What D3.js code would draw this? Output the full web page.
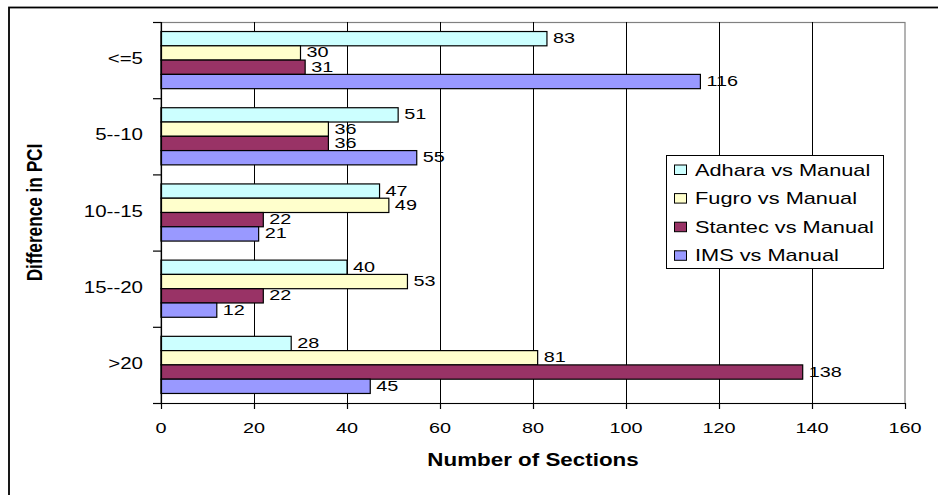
<!DOCTYPE html>
<html>
<head>
<meta charset="utf-8">
<script src="https://cdn.jsdelivr.net/npm/d3@7"></script>
<style>
  html, body { margin: 0; padding: 0; background: #fff; }
  svg { display: block; }
  text { font-family: "Liberation Sans", Arial, sans-serif; fill: #000; }
</style>
</head>
<body>
<svg id="chart" width="938" height="495"></svg>
<script>
// ---- data ----
const categories = ["<=5", "5--10", "10--15", "15--20", ">20"];
const seriesNames = ["Adhara vs Manual", "Fugro vs Manual", "Stantec vs Manual", "IMS vs Manual"];
const adhara  = [83, 51, 47, 40, 28];
const fugro   = [30, 36, 49, 53, 81];
const stantec = [31, 36, 22, 22, 138];
const ims     = [116, 55, 21, 12, 45];
const xTicks  = [0, 20, 40, 60, 80, 100, 120, 140, 160];
const seriesColors = ["#CCFFFF", "#FFFFCC", "#993366", "#9999FF"];
const xTitle = "Number of Sections";
const yTitle = "Difference in PCI";

const seriesValues = [adhara, fugro, stantec, ims];
const rows = [];
categories.forEach((c, ci) => {
  seriesNames.forEach((s, si) => rows.push({cat: c, series: s, si: si, value: seriesValues[si][ci]}));
});

// ---- layout ----
const SX = 1.28; // horizontal text stretch of the original picture
const svg = d3.select("#chart");
const pL = 161, pR = 905, pT = 22, pB = 403;

const x = d3.scaleLinear().domain([0, 160]).range([pL, pR]);
const y = d3.scaleBand().domain(categories).range([pT, pB]).padding(0);
const ySub = d3.scaleBand().domain(seriesNames).range([0, y.bandwidth()]).paddingInner(0).paddingOuter(0.667);
const color = d3.scaleOrdinal().domain(seriesNames).range(seriesColors);

function stxt(g, str, px, py, size, anchor, weight, rot) {
  const t = g.append("text")
    .attr("transform", `translate(${px},${py}) scale(${SX},1)` + (rot ? ` rotate(${rot})` : ""))
    .attr("text-anchor", anchor || "start")
    .style("font-size", size + "px")
    .text(str);
  if (weight) t.style("font-weight", weight);
  return t;
}

// outer chart border
svg.append("rect").attr("x", 9).attr("y", 7.5).attr("width", 1000).attr("height", 1000)
  .attr("fill", "#fff").attr("stroke", "#000").attr("stroke-width", 1.8);

// plot area border (gray) top & right
svg.append("rect").attr("x", pL).attr("y", pT + 0.5).attr("width", pR - pL).attr("height", pB - pT)
  .attr("fill", "#fff").attr("stroke", "#808080").attr("stroke-width", 1.2);

// vertical gridlines
svg.append("g").selectAll("line").data(xTicks.filter(d => d > 0 && d < 160)).join("line")
  .attr("x1", d => Math.round(x(d)) + 0.5).attr("x2", d => Math.round(x(d)) + 0.5)
  .attr("y1", pT).attr("y2", pB)
  .attr("stroke", "#000").attr("stroke-width", 1);

// bars
svg.append("g").selectAll("rect").data(rows).join("rect")
  .attr("x", x(0))
  .attr("y", d => y(d.cat) + ySub(d.series))
  .attr("width", d => x(d.value) - x(0))
  .attr("height", ySub.bandwidth())
  .attr("fill", d => color(d.series))
  .attr("stroke", "#000").attr("stroke-width", 1.2);

// data labels
const lbl = svg.append("g");
rows.forEach(d => {
  stxt(lbl, String(d.value), x(d.value) + 6, y(d.cat) + ySub(d.series) + ySub.bandwidth() / 2 + 4.5, 15.5, "start");
});

// x axis
const xAxisG = svg.append("g").attr("transform", `translate(0,${pB})`)
  .call(d3.axisBottom(x).tickValues(xTicks).tickSize(6).tickFormat(""));
xAxisG.select(".domain").attr("d", `M${pL - 8},0.5H${pR}`).attr("stroke", "#000").attr("stroke-width", 1.2);
xAxisG.selectAll(".tick line").attr("stroke", "#000").attr("stroke-width", 1.2);
const xl = svg.append("g");
xTicks.forEach(t => stxt(xl, String(t), x(t), 433, 15.5, "middle"));

// y axis (ticks at category boundaries)
const yBounds = categories.map(c => y(c)).concat([pB]);
svg.append("line").attr("x1", pL + 0.5).attr("x2", pL + 0.5).attr("y1", pT).attr("y2", pB)
  .attr("stroke", "#000").attr("stroke-width", 1.2);
svg.append("g").selectAll("line").data(yBounds).join("line")
  .attr("x1", pL - 8).attr("x2", pL).attr("y1", d => d + 0.5).attr("y2", d => d + 0.5)
  .attr("stroke", "#000").attr("stroke-width", 1.2);
const yl = svg.append("g");
categories.forEach(c => stxt(yl, c, 143, y(c) + y.bandwidth() / 2 + 4, 16, "end"));

// axis titles
stxt(svg, xTitle, (pL + pR) / 2, 466, 17.5, "middle", "bold");
stxt(svg, yTitle, 42, (pT + pB) / 2, 17.2, "middle", "bold", -90);

// legend
const lg = svg.append("g");
lg.append("rect").attr("x", 666.5).attr("y", 155.5).attr("width", 217).attr("height", 113)
  .attr("fill", "#fff").attr("stroke", "#000").attr("stroke-width", 1);
seriesNames.forEach((s, i) => {
  const cy = 169.5 + i * 28.6;
  lg.append("rect").attr("x", 674.5).attr("y", cy - 4.5).attr("width", 12).attr("height", 9.5)
    .attr("fill", color(s)).attr("stroke", "#000").attr("stroke-width", 1);
  stxt(lg, s, 695, cy + 6, 17, "start");
});
</script>
</body>
</html>
